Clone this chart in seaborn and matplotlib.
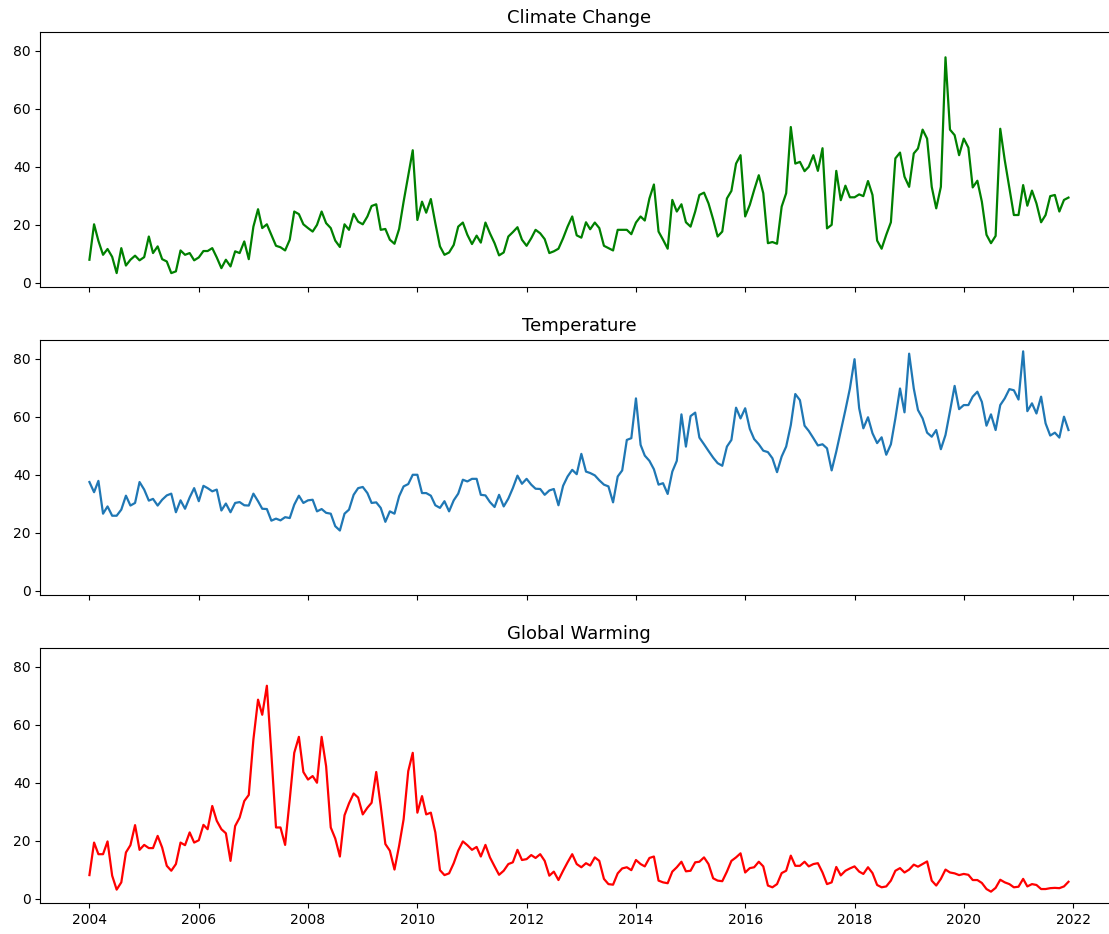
import matplotlib
matplotlib.use("Agg")
import matplotlib.pyplot as plt
import numpy as np
import pandas as pd
import seaborn as sns

# Monthly search interest, January 2004 to December 2021
months = pd.date_range("2004-01-01", periods=216, freq="MS")

climate_change = [
    8, 20.2, 14.5, 9.7, 11.7, 9, 3.4, 12, 6, 8, 9.4, 7.8,
    8.9, 16, 10.3, 12.6, 8.2, 7.4, 3.4, 4, 11.2, 9.7, 10.3, 7.8,
    8.8, 11, 11, 12, 8.8, 5.1, 8, 5.7, 10.9, 10.3, 14.3, 8.2,
    19.4, 25.4, 18.9, 20.2, 16.6, 12.8, 12.3, 11.2, 14.9, 24.6, 23.7, 20.2,
    18.9, 17.7, 20, 24.6, 20.6, 18.9, 14.6, 12.4, 20.2, 18.3, 23.8, 21.1,
    20.2, 22.9, 26.5, 27.1, 18.3, 18.6, 14.9, 13.5, 18.6, 28, 37, 45.7,
    21.7, 28, 24.2, 28.9, 20.6, 12.6, 9.7, 10.5, 13.1, 19.4, 20.8, 16.6,
    13.4, 16.3, 13.9, 20.8, 17.1, 13.7, 9.5, 10.5, 16, 17.5, 19.2, 14.9,
    12.8, 15.4, 18.3, 17.1, 15.1, 10.3, 10.9, 11.8, 15.4, 19.4, 22.9, 16.4,
    15.6, 20.9, 18.5, 20.8, 18.9, 12.8, 12, 11.2, 18.3, 18.3, 18.3, 16.8,
    20.8, 22.9, 21.5, 29.1, 33.9, 17.7, 14.9, 11.8, 28.6, 24.6, 27.1, 20.9,
    19.4, 24.6, 30.3, 31.1, 27.4, 21.9, 16, 17.7, 29.1, 31.7, 41.1, 44,
    22.9, 26.9, 32, 37.1, 30.9, 13.7, 14.1, 13.5, 26.3, 30.9, 53.7, 41.1,
    41.7, 38.5, 40, 44, 38.6, 46.4, 18.8, 20, 38.6, 28.5, 33.5, 29.5,
    29.5, 30.5, 29.9, 35.1, 30.3, 14.6, 11.8, 16.6, 20.9, 42.9, 44.9, 36.6,
    33.1, 44.6, 46.3, 52.8, 49.7, 33.1, 25.7, 33.1, 77.7, 52.8, 50.9, 44,
    49.7, 46.6, 32.9, 35.2, 28, 16.6, 13.7, 16.2, 53.1, 42.3, 32.6, 23.4,
    23.4, 33.7, 26.6, 31.8, 27.4, 20.9, 23.4, 29.9, 30.3, 24.6, 28.6, 29.4,
]

temperature = [
    37.5, 34, 37.9, 26.6, 29.1, 25.9, 25.9, 28, 32.8, 29.4, 30.3, 37.5,
    34.9, 31.1, 31.7, 29.4, 31.4, 32.9, 33.5, 27.1, 31.2, 28.3, 32.2, 35.4,
    30.9, 36.2, 35.4, 34.3, 34.9, 27.7, 30.1, 27.1, 30.3, 30.6, 29.5, 29.4,
    33.5, 30.9, 28.3, 28.2, 24.2, 24.9, 24.3, 25.4, 25.1, 29.7, 32.8, 30.3,
    31.2, 31.4, 27.4, 28.2, 26.9, 26.6, 22.3, 20.8, 26.6, 28, 33.1, 35.4,
    35.8, 33.7, 30.3, 30.5, 28.6, 23.8, 27.4, 26.6, 32.6, 36, 36.8, 40,
    40, 33.7, 33.7, 32.8, 29.5, 28.6, 30.9, 27.4, 31.2, 33.5, 38.3, 37.7,
    38.6, 38.6, 33.1, 32.9, 30.6, 28.9, 33.1, 29.1, 31.8, 35.4, 39.7, 36.9,
    38.6, 36.6, 35.2, 35.1, 33.1, 34.6, 35.1, 29.5, 36.2, 39.4, 41.7, 40.2,
    47.2, 41.1, 40.6, 39.8, 38.1, 36.6, 36, 30.5, 39.4, 41.5, 52, 52.6,
    66.3, 50.3, 46.6, 44.8, 41.9, 36.6, 37.1, 33.4, 41.1, 44.8, 60.8, 49.7,
    60.2, 61.4, 52.8, 50.5, 48.2, 45.9, 44, 43.1, 49.7, 52, 63.1, 59.4,
    62.9, 55.8, 52.3, 50.5, 48.3, 47.8, 45.7, 40.9, 46.3, 49.7, 57.1, 67.8,
    65.7, 56.9, 55.1, 52.6, 50.1, 50.5, 49.1, 41.5, 48, 55, 62.3, 69.7,
    79.8, 62.9, 56, 59.8, 54.3, 50.9, 52.9, 46.9, 50.5, 59.4, 69.7, 61.5,
    81.7, 69.7, 62.3, 59.4, 54.5, 53.1, 55.4, 48.8, 53.7, 61.9, 70.6, 62.6,
    64, 64, 66.9, 68.6, 65.1, 56.9, 60.8, 55.4, 64, 66.3, 69.5, 69.1,
    65.9, 82.5, 61.9, 64.6, 61.1, 66.9, 57.7, 53.5, 54.5, 52.8, 60, 55.4,
]

global_warming = [
    8.2, 19.4, 15.4, 15.4, 19.8, 8, 3.2, 5.7, 16, 18.5, 25.4, 16.9,
    18.6, 17.5, 17.5, 21.7, 17.7, 11.4, 9.7, 12, 19.4, 18.5, 22.9, 19.4,
    20.2, 25.5, 24, 32, 26.9, 24, 22.6, 13.1, 25.1, 28, 33.7, 35.8,
    54.9, 68.6, 63.4, 73.4, 50, 24.6, 24.6, 18.6, 34.3, 50.3, 55.8, 43.7,
    41.1, 42.3, 40, 55.8, 45.7, 24.6, 20.8, 14.6, 28.8, 32.9, 36.3, 34.9,
    29.1, 31.4, 33.1, 43.7, 32, 18.9, 16.6, 10.1, 18.3, 27.4, 44, 50.3,
    29.7, 35.4, 29.1, 29.7, 22.9, 9.9, 8.2, 8.8, 12.3, 16.6, 19.8, 18.5,
    16.9, 17.9, 14.6, 18.6, 14.3, 11.2, 8.3, 9.7, 12, 12.6, 16.9, 13.4,
    13.7, 15.1, 14.1, 15.4, 13.1, 8, 9.4, 6.5, 9.7, 12.6, 15.4, 12,
    10.9, 12.3, 11.5, 14.3, 13.1, 6.9, 5.1, 4.9, 8.8, 10.5, 10.9, 9.9,
    13.4, 12, 11.2, 14.1, 14.6, 6.3, 5.7, 5.4, 9.4, 10.9, 12.8, 9.5,
    9.7, 12.6, 12.8, 14.3, 12, 7.1, 6.3, 6.1, 9.4, 13.1, 14.3, 15.7,
    9.1, 10.6, 10.9, 12.8, 11.2, 4.6, 4, 5.1, 8.9, 9.7, 14.9, 11.4,
    11.4, 12.8, 11.2, 12, 12.3, 9.1, 5.1, 5.7, 11, 8.1, 9.7, 10.5,
    11.2, 9.4, 8.6, 10.9, 8.9, 4.8, 4, 4.3, 6.3, 9.7, 10.6, 9.1,
    10.1, 11.8, 11.1, 12, 12.9, 6.3, 4.6, 6.9, 10.1, 9.1, 8.8, 8.2,
    8.6, 8.3, 6.5, 6.5, 5.5, 3.4, 2.5, 3.8, 6.6, 5.7, 5.1, 4,
    4.2, 6.9, 4.3, 5.1, 4.8, 3.4, 3.4, 3.7, 3.8, 3.7, 4.3, 5.9,
]

titles = ["Climate Change", "Temperature", "Global Warming"]
colors = ["green", "#1f77b4", "red"]

df = pd.DataFrame({"month": months,
                   titles[0]: climate_change,
                   titles[1]: temperature,
                   titles[2]: global_warming})

fig, axes = plt.subplots(3, 1, figsize=(11.09, 9.34), dpi=100,
                         sharex=True, sharey=True)
fig.subplots_adjust(left=0.0365, right=1.0076, top=0.966, bottom=0.0329,
                    hspace=0.205)

for ax, name, color in zip(axes, titles, colors):
    sns.lineplot(data=df, x="month", y=name, ax=ax, color=color, linewidth=1.6)
    ax.set_title(name, fontsize=13)
    ax.set_xlabel("")
    ax.set_ylabel("")
    ax.tick_params(labelsize=10, length=3.5)

axes[0].set_yticks([0, 20, 40, 60, 80])

fig.savefig("out.png", dpi=100)
